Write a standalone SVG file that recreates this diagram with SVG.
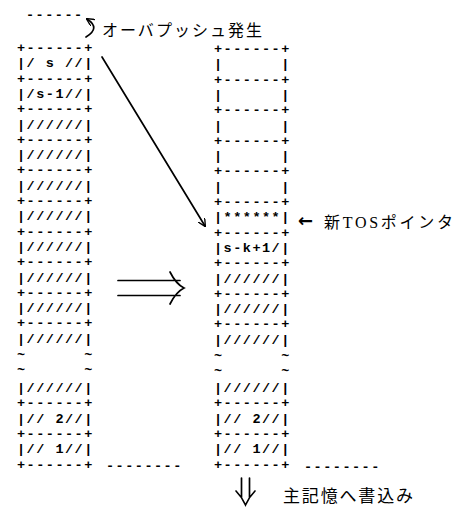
<svg xmlns="http://www.w3.org/2000/svg" width="454" height="508" viewBox="0 0 454 508" xml:space="preserve">
<style>
.m{font-family:"Liberation Mono","DejaVu Sans Mono",monospace;font-size:13.5px;letter-spacing:1.5px;font-weight:bold;fill:#000;white-space:pre}
.j{font-family:"Liberation Serif","Noto Sans CJK JP",serif;fill:#000;white-space:pre}
.ln{stroke:#000;stroke-width:1.7;fill:none;stroke-linecap:round}
</style>
<defs>
<marker id="ah" viewBox="0 0 10 10" refX="9" refY="5" markerWidth="8" markerHeight="8" orient="auto-start-reverse" markerUnits="userSpaceOnUse">
<path d="M0,0 L10,5 L0,10" fill="none" stroke="#000" stroke-width="1.7"/>
</marker>
</defs>
<rect width="454" height="508" fill="#fff"/>

<g id="top-dashes"><text class="m" x="26" y="19">------</text></g>

<g id="left-stack">
<text class="m"><tspan x="17" y="52">+------+</tspan><tspan x="17" y="67.3">|/ s //|</tspan><tspan x="17" y="82.6">+------+</tspan><tspan x="17" y="97.9">|/s-1//|</tspan><tspan x="17" y="113.2">+------+</tspan><tspan x="17" y="128.5">|//////|</tspan><tspan x="17" y="143.8">+------+</tspan><tspan x="17" y="159.1">|//////|</tspan><tspan x="17" y="174.4">+------+</tspan><tspan x="17" y="189.7">|//////|</tspan><tspan x="17" y="205">+------+</tspan><tspan x="17" y="220.3">|//////|</tspan><tspan x="17" y="235.6">+------+</tspan><tspan x="17" y="250.9">|//////|</tspan><tspan x="17" y="266.2">+------+</tspan><tspan x="17" y="281.5">|//////|</tspan><tspan x="17" y="296.8">+------+</tspan><tspan x="17" y="312.1">|//////|</tspan><tspan x="17" y="327.4">+------+</tspan><tspan x="17" y="342.7">|//////|</tspan><tspan x="17" y="358.5">~      ~</tspan><tspan x="17" y="374">~      ~</tspan><tspan x="17" y="392">|//////|</tspan><tspan x="17" y="407.3">+------+</tspan><tspan x="17" y="422.6">|// 2//|</tspan><tspan x="17" y="437.9">+------+</tspan><tspan x="17" y="453.2">|// 1//|</tspan><tspan x="17" y="468.5">+------+</tspan></text>
</g>
<g id="left-dashes"><text class="m" x="106" y="470">--------</text></g>

<g id="right-stack">
<text class="m"><tspan x="214" y="53">+------+</tspan><tspan x="214" y="68.3">|      |</tspan><tspan x="214" y="83.6">+------+</tspan><tspan x="214" y="98.9">|      |</tspan><tspan x="214" y="114.2">+------+</tspan><tspan x="214" y="129.5">|      |</tspan><tspan x="214" y="144.8">+------+</tspan><tspan x="214" y="160.1">|      |</tspan><tspan x="214" y="175.4">+------+</tspan><tspan x="214" y="190.7">|      |</tspan><tspan x="214" y="206">+------+</tspan><tspan x="214" y="221.3">|******|</tspan><tspan x="214" y="236.6">+------+</tspan><tspan x="214" y="251.9">|s-k+1/|</tspan><tspan x="214" y="267.2">+------+</tspan><tspan x="214" y="282.5">|//////|</tspan><tspan x="214" y="297.8">+------+</tspan><tspan x="214" y="313.1">|//////|</tspan><tspan x="214" y="328.4">+------+</tspan><tspan x="214" y="343.7">|//////|</tspan><tspan x="214" y="359.5">~      ~</tspan><tspan x="214" y="374.5">~      ~</tspan><tspan x="214" y="392">|//////|</tspan><tspan x="214" y="407.3">+------+</tspan><tspan x="214" y="422.6">|// 2//|</tspan><tspan x="214" y="437.9">+------+</tspan><tspan x="214" y="453.2">|// 1//|</tspan><tspan x="214" y="468.5">+------+</tspan></text>
</g>
<g id="right-dashes"><text class="m" x="304" y="471">--------</text></g>

<g id="connectors">
<path class="ln" d="M86,37 Q101,28 87,19" marker-end="url(#ah)"/>
<path class="ln" d="M102,57 L205,226" marker-end="url(#ah)"/>
<path class="ln" d="M118,280.5 H180 M118,295.5 H180 M170,272 Q176,284 184,288 Q176,292 170,304"/>
<path class="ln" d="M241.5,478 V497 M249.5,478 V497 M236,491 Q242,497 245.5,505 Q249,497 255,491"/>
</g>

<g id="labels">
<text class="j" x="102" y="36" font-size="16" textLength="160" lengthAdjust="spacing">オーバプッシュ発生</text>
<text x="298" y="227" font-family="DejaVu Sans, sans-serif" font-size="18" font-weight="bold" fill="#000">←</text>
<text class="j" x="324" y="228" font-size="16" textLength="129" lengthAdjust="spacing">新TOSポインタ</text>
<text class="j" x="283" y="502" font-size="17" textLength="130" lengthAdjust="spacing">主記憶へ書込み</text>
</g>
</svg>
